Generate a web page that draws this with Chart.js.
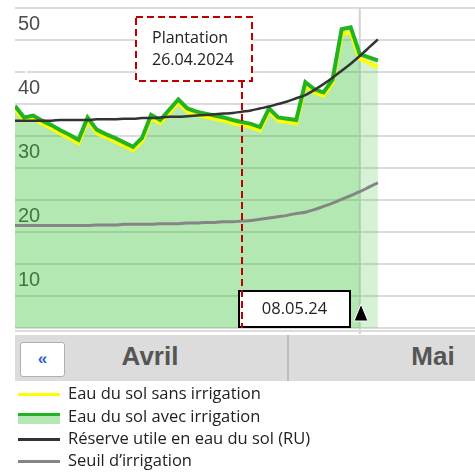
<!DOCTYPE html>
<html lang="fr">
<head>
<meta charset="utf-8">
<title>Eau du sol</title>
<script src="https://cdn.jsdelivr.net/npm/chart.js@4.4.1/dist/chart.umd.min.js"></script>
<style>
  html, body { margin: 0; padding: 0; background: #fff; }
  #wrap { position: relative; width: 475px; height: 472px; overflow: hidden; font-family: "Open Sans", sans-serif; }
  #chart { position: absolute; left: 0; top: 0; }
  .strip { position: absolute; left: 15px; top: 330px; width: 460px; height: 2px; background: #dcdcdc; }
  .nav { position: absolute; left: 15px; top: 335px; width: 460px; height: 46px; background: #dcdcdc; }
  .nav .btn { position: absolute; left: 5px; top: 7px; width: 43px; height: 33px; background: #fff; border: 1px solid #b0b0b0; border-radius: 3px; color: #2f5fd6; font: bold 17px "Liberation Sans", sans-serif; text-align: center; line-height: 31px; }
  .nav .month { position: absolute; top: 6px; font: bold 26px "Liberation Sans", sans-serif; color: #555; transform: translateX(-50%); }
  .nav .sep { position: absolute; left: 272px; top: 0; width: 2px; height: 46px; background: #bcbcbc; }
  .legend { position: absolute; left: 18px; top: 383px; }
  .legend .row { position: absolute; left: 0; width: 400px; height: 22px; white-space: nowrap; }
  .legend .sw { position: absolute; left: 0; width: 42px; }
  .legend .txt { position: absolute; left: 50px; top: -1px; font-size: 16.5px; color: #222; line-height: 22px; }
</style>
</head>
<body>
<div id="wrap">
  <canvas id="chart" width="475" height="334"></canvas>
  <div class="strip"></div>
  <div class="nav">
    <div class="btn">&laquo;</div>
    <div class="month" style="left:135px">Avril</div>
    <div class="sep"></div>
    <div class="month" style="left:418px">Mai</div>
  </div>
  <div class="legend" id="legend"></div>
</div>
<script>
// jours du 01.04 au 11.05
const dates = [
  "01.04", "02.04", "03.04", "04.04", "05.04", "06.04", "07.04", "08.04", "09.04", "10.04",
  "11.04", "12.04", "13.04", "14.04", "15.04", "16.04", "17.04", "18.04", "19.04", "20.04",
  "21.04", "22.04", "23.04", "24.04", "25.04", "26.04", "27.04", "28.04", "29.04", "30.04",
  "01.05", "02.05", "03.05", "04.05", "05.05", "06.05", "07.05", "08.05", "09.05", "10.05", "11.05"
];

const solAvecIrrigation = [
  37.2, 35.4, 35.7, 34.9, 34.2, 33.4, 32.7, 31.9, 35.4, 33.5,
  32.8, 32.2, 31.5, 30.8, 32.2, 35.8, 35.0, 36.6, 38.2, 36.8,
  36.3, 36.0, 35.7, 35.4, 35.0, 34.7, 34.4, 33.9, 36.8, 35.4,
  35.2, 35.0, 40.9, 39.8, 39.3, 41.3, 49.2, 49.5, 45.3, 44.8, 44.3
];

const solSansIrrigation = [
  36.7, 34.9, 35.2, 34.4, 33.7, 32.9, 32.2, 31.4, 34.9, 33.0,
  32.3, 31.7, 31.0, 30.3, 31.7, 35.3, 34.5, 36.1, 37.7, 36.3,
  35.8, 35.5, 35.2, 34.9, 34.5, 34.2, 33.9, 33.4, 36.3, 34.9,
  34.7, 34.5, 40.4, 39.3, 38.8, 40.8, 48.4, 48.7, 44.6, 43.9, 43.3
];

const reserveUtile = [
  34.9, 34.9, 34.9, 34.9, 34.9, 35.0, 35.0, 35.0, 35.0, 35.1,
  35.1, 35.1, 35.2, 35.2, 35.3, 35.3, 35.4, 35.5, 35.5, 35.6,
  35.7, 35.8, 35.9, 36.0, 36.1, 36.3, 36.5, 36.8, 37.1, 37.5,
  37.9, 38.4, 38.9, 39.7, 40.6, 41.6, 42.7, 43.8, 45.0, 46.3, 47.6
];

const seuilIrrigation = [
  18.5, 18.5, 18.5, 18.5, 18.5, 18.5, 18.5, 18.5, 18.5, 18.6,
  18.6, 18.6, 18.7, 18.7, 18.7, 18.7, 18.8, 18.8, 18.8, 18.9,
  18.9, 19.0, 19.0, 19.1, 19.1, 19.2, 19.3, 19.5, 19.7, 19.9,
  20.1, 20.4, 20.6, 21.0, 21.5, 22.0, 22.6, 23.2, 23.8, 24.5, 25.2
];

const yTickLabels = [10, 20, 30, 40, 50];
const plantationDate = "26.04";
const plantationLabel = ["Plantation", "26.04.2024"];
const todayDate = "09.05";
const todayLabel = "08.05.24";

const legendItems = [
  { text: "Eau du sol sans irrigation", kind: "yellow" },
  { text: "Eau du sol avec irrigation", kind: "green" },
  { text: "Réserve utile en eau du sol (RU)", kind: "black" },
  { text: "Seuil d\u2019irrigation", kind: "gray" }
];

const plantationIndex = dates.indexOf(plantationDate);
const todayIndex = dates.indexOf(todayDate);

const toPoints = arr => arr.map((v, i) => ({ x: i, y: v }));

const fillNow = "rgba(45, 190, 45, 0.36)";
const fillForecast = "rgba(45, 190, 45, 0.2)";

// annotations: plantation, today
const markers = {
  id: "markers",
  beforeDatasetsDraw(chart) {
    const { ctx, chartArea } = chart;
    const tx = chart.scales.x.getPixelForValue(todayIndex);
    ctx.save();
    ctx.strokeStyle = "#d2d2d2";
    ctx.lineWidth = 2;
    ctx.beginPath();
    ctx.moveTo(tx, chartArea.top);
    ctx.lineTo(tx, chart.height);
    ctx.stroke();
    ctx.restore();
  },
  afterDatasetsDraw(chart) {
    const { ctx, chartArea } = chart;
    const xs = chart.scales.x;
    const px = Math.round(xs.getPixelForValue(plantationIndex));
    const tx = Math.round(xs.getPixelForValue(todayIndex));
    ctx.save();

    // today box
    const bw = 111, bh = 36;
    const bx = tx - 10 - bw, by = chartArea.bottom - bh - 1;
    ctx.fillStyle = "#fff";
    ctx.fillRect(bx, by, bw, bh);
    ctx.strokeStyle = "#000";
    ctx.lineWidth = 2;
    ctx.strokeRect(bx, by, bw, bh);
    ctx.fillStyle = "#222";
    ctx.font = "16.5px 'Open Sans'";
    ctx.textAlign = "center";
    ctx.textBaseline = "middle";
    ctx.fillText(todayLabel, bx + bw / 2, by + bh / 2);

    // triangle
    ctx.beginPath();
    ctx.moveTo(tx + 1, by + 13);
    ctx.lineTo(tx + 8, by + 30);
    ctx.lineTo(tx - 6, by + 30);
    ctx.closePath();
    ctx.fillStyle = "#000";
    ctx.fill();
    ctx.strokeStyle = "#fff";
    ctx.lineWidth = 1;
    ctx.stroke();

    // plantation box
    const pw = 116, ph = 64;
    const pbx = px - 106, pby = 17;
    ctx.fillStyle = "#fff";
    ctx.fillRect(pbx, pby, pw, ph);
    ctx.strokeStyle = "#c00000";
    ctx.lineWidth = 2;
    ctx.setLineDash([7, 4]);
    ctx.strokeRect(pbx, pby, pw, ph);
    ctx.beginPath();
    ctx.moveTo(px, pby + ph);
    ctx.lineTo(px, chartArea.bottom);
    ctx.stroke();
    ctx.setLineDash([]);
    ctx.fillStyle = "#222";
    ctx.font = "16px 'Open Sans'";
    ctx.textAlign = "left";
    ctx.fillText(plantationLabel[0], pbx + 16, pby + 21);
    ctx.fillText(plantationLabel[1], pbx + 16, pby + 43);
    ctx.restore();
  }
};

new Chart(document.getElementById("chart"), {
  type: "line",
  data: {
    datasets: [
      {
        label: "Réserve utile en eau du sol (RU)",
        data: toPoints(reserveUtile),
        borderColor: "#333333",
        borderWidth: 2.5,
        cubicInterpolationMode: "monotone",
        pointRadius: 0,
        fill: false
      },
      {
        label: "Eau du sol avec irrigation",
        data: toPoints(solAvecIrrigation),
        borderColor: "#22b322",
        borderWidth: 4,
        tension: 0,
        pointRadius: 0,
        fill: false
      },
      {
        label: "Eau du sol sans irrigation",
        data: toPoints(solSansIrrigation),
        borderColor: "#ffff00",
        borderWidth: 4,
        tension: 0,
        pointRadius: 0,
        fill: false
      },
      {
        label: "Seuil d'irrigation",
        data: toPoints(seuilIrrigation),
        borderColor: "#858585",
        borderWidth: 3,
        cubicInterpolationMode: "monotone",
        pointRadius: 0,
        fill: false
      },
      {
        label: "fond",
        data: toPoints(solAvecIrrigation),
        borderWidth: 0,
        borderColor: "transparent",
        pointRadius: 0,
        tension: 0,
        fill: "start",
        backgroundColor: fillNow,
        segment: {
          backgroundColor: c => c.p0DataIndex >= todayIndex ? fillForecast : fillNow
        }
      }
    ]
  },
  options: {
    responsive: false,
    animation: false,
    layout: { padding: { left: 15, top: 8, right: 0, bottom: 6 } },
    plugins: { legend: { display: false }, tooltip: { enabled: false } },
    scales: {
      x: { type: "linear", min: 0, max: 50.7, display: false },
      y: {
        min: 2.5,
        max: 52.5,
        border: { display: false },
        afterFit(scale) {
          scale.width = 0;
          scale.paddingTop = 0;
          scale.paddingBottom = 0;
        },
        grid: {
          drawTicks: false,
          lineWidth: 2,
          color: c => (c.tick && Math.abs((c.tick.value - 2.5) % 5) < 0.01) ? "#dcdcdc" : "transparent"
        },
        ticks: {
          stepSize: 2.5,
          autoSkip: false,
          mirror: true,
          padding: 3,
          color: "#4d4d4d",
          textStrokeColor: "#fff",
          textStrokeWidth: 4,
          font: { family: "Liberation Sans", size: 20 },
          callback: v => yTickLabels.includes(v) ? String(v) : ""
        }
      }
    }
  },
  plugins: [markers]
});

// legend
const legend = document.getElementById("legend");
const rowTops = [0, 23, 45, 67];
legendItems.forEach((item, i) => {
  const row = document.createElement("div");
  row.className = "row";
  row.style.top = rowTops[i] + "px";
  let sw = "";
  if (item.kind === "yellow") sw = `<div class="sw" style="top:10px;height:3px;background:#ffff00"></div>`;
  if (item.kind === "green") sw = `<div class="sw" style="top:7px;height:3px;background:#22b322"></div><div class="sw" style="top:10px;height:8px;background:#b6e8b6"></div>`;
  if (item.kind === "black") sw = `<div class="sw" style="top:10px;height:3px;background:#333"></div>`;
  if (item.kind === "gray") sw = `<div class="sw" style="top:10px;height:3px;background:#858585"></div>`;
  row.innerHTML = sw + `<div class="txt">${item.text}</div>`;
  legend.appendChild(row);
});
</script>
</body>
</html>
